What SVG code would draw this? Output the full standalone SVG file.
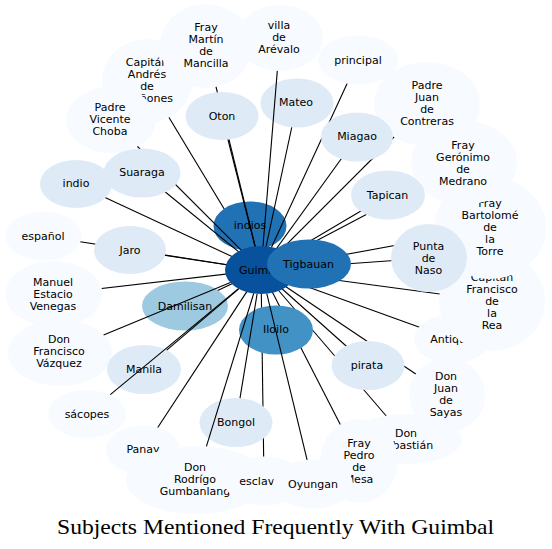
<svg xmlns="http://www.w3.org/2000/svg" width="552" height="549" viewBox="0 0 552 549">
<style>
.v{fill:#f7fbff}
.l{fill:#deebf7}
.e line{stroke:#000;stroke-width:1.1}
text{font-family:"DejaVu Sans",sans-serif;font-size:11px;fill:#000;text-anchor:middle}
.title{font-family:"Liberation Serif",serif;font-size:21px;text-anchor:start}
</style>
<rect width="552" height="549" fill="#fff"/>
<g id="edges-below" class="e">
<line x1="261" y1="270" x2="147" y2="81"/>
<line x1="261" y1="270" x2="43.5" y2="236"/>
<line x1="261" y1="270" x2="130" y2="250"/>
<line x1="261" y1="270" x2="54" y2="294"/>
<line x1="261" y1="270" x2="185" y2="306"/>
<line x1="261" y1="270" x2="143" y2="450"/>
<line x1="261" y1="270" x2="264" y2="481"/>
<line x1="261" y1="270" x2="359" y2="461"/>
<line x1="261" y1="270" x2="406" y2="439"/>
<line x1="261" y1="270" x2="447" y2="395"/>
<line x1="261" y1="270" x2="368" y2="365.5"/>
<line x1="261" y1="270" x2="452" y2="339"/>
<line x1="261" y1="270" x2="492" y2="301"/>
<line x1="261" y1="270" x2="429" y2="258"/>
<line x1="261" y1="270" x2="490" y2="228"/>
<line x1="261" y1="270" x2="388" y2="195"/>
<line x1="261" y1="270" x2="464" y2="163"/>
<line x1="261" y1="270" x2="427" y2="104"/>
<line x1="261" y1="270" x2="357" y2="137"/>
</g>
<g id="indios"><ellipse cx="250" cy="226" rx="36.5" ry="24.5" fill="#2171b5"/><text x="250" y="229">indios</text></g>
<g id="edges-middle" class="e">
<line x1="261" y1="270" x2="206" y2="46"/>
<line x1="261" y1="270" x2="222" y2="116"/>
<line x1="261" y1="270" x2="297" y2="103"/>
<line x1="261" y1="270" x2="358" y2="60"/>
<line x1="261" y1="270" x2="111" y2="120"/>
<line x1="261" y1="270" x2="142" y2="173"/>
<line x1="261" y1="270" x2="76" y2="184"/>
</g>
<g id="capitan-andres"><ellipse class="v" cx="147" cy="81" rx="45" ry="42"/><text x="147" y="65.5">Capitán</text><text x="147" y="77.5">Andrés</text><text x="147" y="89.5">de</text><text x="147" y="101.5">Quiñones</text></g>
<g id="fray-martin"><ellipse class="v" cx="206" cy="46" rx="46" ry="42"/><text x="206" y="31">Fray</text><text x="206" y="43">Martín</text><text x="206" y="55">de</text><text x="206" y="67">Mancilla</text></g>
<g id="padre-vicente"><ellipse class="v" cx="111" cy="120" rx="45" ry="33"/><text x="110" y="111">Padre</text><text x="110" y="123">Vicente</text><text x="110" y="135">Choba</text></g>
<g id="villa"><ellipse class="v" cx="280" cy="38" rx="43" ry="33"/><text x="279" y="29">villa</text><text x="279" y="41">de</text><text x="279" y="53">Arévalo</text></g>
<g id="principal"><ellipse class="v" cx="358" cy="60" rx="40" ry="24.5"/><text x="358" y="64">principal</text></g>
<g id="antique"><ellipse class="v" cx="452" cy="339" rx="38" ry="24.5"/><text x="451.5" y="343">Antique</text></g>
<g id="capitan-francisco"><ellipse class="v" cx="492" cy="301" rx="53" ry="50"/><text x="492" y="281">Capitán</text><text x="492" y="293">Francisco</text><text x="492" y="305">de</text><text x="492" y="317">la</text><text x="492" y="329">Rea</text></g>
<g id="fray-bartolome"><ellipse class="v" cx="490" cy="228" rx="56" ry="51"/><text x="490" y="207">Fray</text><text x="490" y="219">Bartolomé</text><text x="490" y="231">de</text><text x="490" y="243">la</text><text x="490" y="255">Torre</text></g>
<g id="fray-geronimo"><ellipse class="v" cx="464" cy="163" rx="53" ry="42"/><text x="463" y="149">Fray</text><text x="463" y="161">Gerónimo</text><text x="463" y="173">de</text><text x="463" y="185">Medrano</text></g>
<g id="padre-juan"><ellipse class="v" cx="427" cy="104" rx="53" ry="42"/><text x="427" y="89">Padre</text><text x="427" y="101">Juan</text><text x="427" y="113">de</text><text x="427" y="125">Contreras</text></g>
<g id="don-juan"><ellipse class="v" cx="447" cy="395" rx="38" ry="37"/><text x="446" y="380">Don</text><text x="446" y="392">Juan</text><text x="446" y="404">de</text><text x="446" y="416">Sayas</text></g>
<g id="don-sebastian"><ellipse class="v" cx="406" cy="439" rx="56" ry="25"/><text x="406" y="436.5">Don</text><text x="406" y="448.5">Sebastián</text></g>
<g id="fray-pedro"><ellipse class="v" cx="359" cy="461" rx="39" ry="42"/><text x="359" y="447">Fray</text><text x="359" y="459">Pedro</text><text x="359" y="471">de</text><text x="359" y="483">Mesa</text></g>
<g id="panay"><ellipse class="v" cx="143" cy="450" rx="37" ry="24.5"/><text x="143" y="453">Panay</text></g>
<g id="don-rodrigo"><ellipse class="v" cx="196" cy="480" rx="70" ry="34"/><text x="195" y="471">Don</text><text x="195" y="483">Rodrígo</text><text x="195" y="495">Gumbanlang</text></g>
<g id="esclavos"><ellipse class="v" cx="264" cy="481" rx="40" ry="24.5"/><text x="263" y="485">esclavos</text></g>
<g id="oyungan"><ellipse class="v" cx="313" cy="484" rx="40" ry="24.5"/><text x="313" y="488">Oyungan</text></g>
<g id="sacopes"><ellipse class="v" cx="87" cy="414" rx="39" ry="24"/><text x="87" y="418">sácopes</text></g>
<g id="don-francisco"><ellipse class="v" cx="60" cy="353" rx="52" ry="33"/><text x="59" y="343">Don</text><text x="59" y="355">Francisco</text><text x="59" y="367">Vázquez</text></g>
<g id="manuel"><ellipse class="v" cx="54" cy="294" rx="48.5" ry="33"/><text x="53" y="286">Manuel</text><text x="53" y="298">Estacio</text><text x="53" y="310">Venegas</text></g>
<g id="espanol"><ellipse class="v" cx="43.5" cy="236" rx="38" ry="24.5"/><text x="43" y="239.5">español</text></g>
<g id="oton"><ellipse class="l" cx="222" cy="116" rx="36.5" ry="24"/><text x="222" y="119.5">Oton</text></g>
<g id="mateo"><ellipse class="l" cx="297" cy="103" rx="36.5" ry="24.5"/><text x="296" y="106">Mateo</text></g>
<g id="miagao"><ellipse class="l" cx="357" cy="137" rx="36" ry="24.5"/><text x="357" y="140">Miagao</text></g>
<g id="tapican"><ellipse class="l" cx="388" cy="195" rx="37" ry="24.5"/><text x="387.5" y="198.5">Tapican</text></g>
<g id="punta-de-naso"><ellipse class="l" cx="429" cy="258" rx="38" ry="34"/><text x="428.5" y="250">Punta</text><text x="428.5" y="262">de</text><text x="428.5" y="274">Naso</text></g>
<g id="pirata"><ellipse class="l" cx="368" cy="365.5" rx="36.5" ry="24.5"/><text x="367" y="368.5">pirata</text></g>
<g id="bongol"><ellipse class="l" cx="236" cy="422.5" rx="36.5" ry="24.5"/><text x="236" y="426">Bongol</text></g>
<g id="manila"><ellipse class="l" cx="144" cy="369.5" rx="37" ry="24.5"/><text x="144" y="373">Manila</text></g>
<g id="jaro"><ellipse class="l" cx="130" cy="250" rx="36" ry="24"/><text x="130" y="253.5">Jaro</text></g>
<g id="indio"><ellipse class="l" cx="76" cy="184" rx="36" ry="24"/><text x="76" y="187">indio</text></g>
<g id="suaraga"><ellipse class="l" cx="142" cy="173" rx="38.5" ry="24.5"/><text x="142" y="176">Suaraga</text></g>
<g id="damilisan"><ellipse cx="185" cy="306" rx="43" ry="24.5" fill="#9ecae1"/><text x="185" y="310">Damilisan</text></g>
<g id="guimbal"><ellipse cx="261" cy="270" rx="36" ry="24" fill="#08519c"/><text x="262" y="273.5">Guimbal</text></g>
<g id="tigbauan"><ellipse cx="309" cy="264" rx="42" ry="24.5" fill="#2171b5"/><text x="308.5" y="267.5">Tigbauan</text></g>
<g id="iloilo"><ellipse cx="276" cy="330" rx="37" ry="24.5" fill="#4292c6"/><text x="276" y="333">Iloilo</text></g>
<g id="edges-above" class="e">
<line x1="263" y1="246" x2="277.3" y2="70.9"/>
<line x1="230.4" y1="282.6" x2="103.6" y2="335"/>
<line x1="238.4" y1="288.7" x2="110.3" y2="394.7"/>
<line x1="238.8" y1="288.9" x2="166.7" y2="350.2"/>
<line x1="253.7" y1="293.5" x2="206.4" y2="446.4"/>
<line x1="257.1" y1="293.9" x2="240" y2="398.1"/>
<line x1="266.8" y1="293.7" x2="307.1" y2="459.8"/>
</g>
<text class="title" x="57" y="534" textLength="437" lengthAdjust="spacingAndGlyphs">Subjects Mentioned Frequently With Guimbal</text>
</svg>
